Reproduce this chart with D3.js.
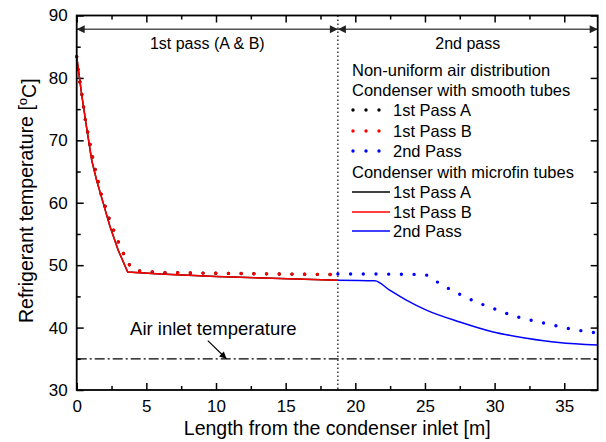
<!DOCTYPE html>
<html>
<head>
<meta charset="utf-8">
<script src="https://cdn.jsdelivr.net/npm/d3@7"></script>
<style>
  body { margin: 0; background: #fff; }
  text { font-family: "Liberation Sans", Arial, sans-serif; }
</style>
</head>
<body>
<div id="chart"></div>
<script>
// Data

const lenMicro1 = [0, 0.36, 0.72, 1.08, 1.43, 1.91, 2.39, 2.98, 3.66, 6, 10, 14, 18.75]
const tempMicro1 = [83.4, 77.3, 71.9, 66.8, 63.6, 59.9, 56.2, 52.4, 48.9, 48.6, 48.2, 47.9, 47.6]

const lenSmooth1 = [0, 0.11, 0.36, 0.62, 0.95, 1.31, 1.74, 2.32, 3.01, 3.41, 3.87, 4.3, 6.3, 10, 14, 18.75]
const tempSmooth1 = [83.4, 81.0, 77.5, 73.3, 69.4, 65.5, 61.5, 57.5, 53.6, 51.6, 49.7, 49.1, 48.8, 48.7, 48.6, 48.5]

const lenMicro2 = [18.75, 21.4, 22.46, 23.66, 25.1, 27.5, 29.9, 32.3, 34.6, 37.4]
const tempMicro2 = [47.6, 47.5, 46.0, 44.4, 42.8, 40.9, 39.3, 38.3, 37.6, 37.2]

const lenSmooth2 = [18.75, 24.9, 26.1, 27.0, 27.9, 28.8, 29.75, 31.5, 33.4, 35.2, 37.4]
const tempSmooth2 = [48.6, 48.5, 47.0, 45.9, 44.9, 44.0, 43.2, 41.8, 40.8, 39.9, 39.1]

const airTemp = 35
const passBoundary = 18.75
const xTicks = [0, 5, 10, 15, 20, 25, 30, 35]
const yTicks = [30, 40, 50, 60, 70, 80, 90]

const legendHeaders = ["Non-uniform air distribution", "Condenser with smooth tubes", "Condenser with microfin tubes"]
const legendSeries = ["1st Pass A", "1st Pass B", "2nd Pass"]
const seriesColors = ["#000000", "#ff0000", "#0000ff"]

// Layout

const W = 606, H = 442
const marginLeft = 76.7, marginRight = 8.3, marginTop = 15.5, marginBottom = 52
const width = W - marginLeft - marginRight
const height = H - marginTop - marginBottom

const svg = d3.select("#chart").append("svg")
  .attr("width", W).attr("height", H)

const defs = svg.append("defs")
defs.append("marker")
  .attr("id", "arr")
  .attr("viewBox", "0 0 10 10")
  .attr("refX", 10).attr("refY", 5)
  .attr("markerWidth", 10).attr("markerHeight", 8)
  .attr("markerUnits", "userSpaceOnUse")
  .attr("orient", "auto-start-reverse")
  .append("path")
  .attr("d", "M0,0 L10,5 L0,10 z")
  .attr("fill", "#222")
defs.append("marker")
  .attr("id", "arrSmall")
  .attr("viewBox", "0 0 10 10")
  .attr("refX", 10).attr("refY", 5)
  .attr("markerWidth", 8).attr("markerHeight", 7)
  .attr("markerUnits", "userSpaceOnUse")
  .attr("orient", "auto")
  .append("path")
  .attr("d", "M0,0 L10,5 L0,10 z")
  .attr("fill", "#000")

const g = svg.append("g").attr("transform", `translate(${marginLeft},${marginTop})`)

const x = d3.scaleLinear().domain([0, 37.4]).range([0, width])
const y = d3.scaleLinear().domain([30, 90]).range([height, 0])

const minorX = d3.range(2.5, 37.4, 5)
const minorY = d3.range(35, 90, 10)

// axes (ticks inward on all four sides)
function styleAxis(sel) {
  sel.select(".domain").remove()
  sel.selectAll(".tick line").attr("stroke", "#000").attr("stroke-width", 1.5)
  sel.selectAll(".tick text").style("font-size", "17px").attr("fill", "#000")
}

g.append("g").attr("transform", `translate(0,${height})`)
  .call(d3.axisBottom(x).tickValues(xTicks).tickSizeInner(-7).tickSizeOuter(0).tickPadding(10))
  .call(styleAxis)
g.append("g").attr("transform", `translate(0,${height})`)
  .call(d3.axisBottom(x).tickValues(minorX).tickSizeInner(-4).tickSizeOuter(0).tickFormat(""))
  .call(styleAxis)
g.append("g")
  .call(d3.axisTop(x).tickValues(xTicks).tickSizeInner(-7).tickSizeOuter(0).tickFormat(""))
  .call(styleAxis)
g.append("g")
  .call(d3.axisTop(x).tickValues(minorX).tickSizeInner(-4).tickSizeOuter(0).tickFormat(""))
  .call(styleAxis)

g.append("g")
  .call(d3.axisLeft(y).tickValues(yTicks).tickSizeInner(-7).tickSizeOuter(0).tickPadding(9))
  .call(styleAxis)
g.append("g")
  .call(d3.axisLeft(y).tickValues(minorY).tickSizeInner(-4).tickSizeOuter(0).tickFormat(""))
  .call(styleAxis)
g.append("g").attr("transform", `translate(${width},0)`)
  .call(d3.axisRight(y).tickValues(yTicks).tickSizeInner(-7).tickSizeOuter(0).tickFormat(""))
  .call(styleAxis)
g.append("g").attr("transform", `translate(${width},0)`)
  .call(d3.axisRight(y).tickValues(minorY).tickSizeInner(-4).tickSizeOuter(0).tickFormat(""))
  .call(styleAxis)

// air inlet temperature line
g.append("line")
  .attr("x1", x(0)).attr("x2", x(37.4))
  .attr("y1", y(airTemp)).attr("y2", y(airTemp))
  .attr("stroke", "#000").attr("stroke-width", 1.2)
  .attr("stroke-dasharray", "10,3,2,3")

// pass boundary
g.append("line")
  .attr("x1", x(passBoundary)).attr("x2", x(passBoundary))
  .attr("y1", 0).attr("y2", height)
  .attr("stroke", "#000").attr("stroke-width", 1.2)
  .attr("stroke-dasharray", "1.5,2.5")

// pass arrows
const arrowY = y(87.8)
g.append("line")
  .attr("x1", x(0)).attr("x2", x(passBoundary))
  .attr("y1", arrowY).attr("y2", arrowY)
  .attr("stroke", "#555").attr("stroke-width", 1.4)
  .attr("marker-start", "url(#arr)").attr("marker-end", "url(#arr)")
g.append("line")
  .attr("x1", x(passBoundary)).attr("x2", x(37.4))
  .attr("y1", arrowY).attr("y2", arrowY)
  .attr("stroke", "#555").attr("stroke-width", 1.4)
  .attr("marker-start", "url(#arr)").attr("marker-end", "url(#arr)")

g.append("text")
  .attr("x", x(passBoundary / 2)).attr("y", y(85.6)).attr("dy", "0.35em")
  .attr("text-anchor", "middle").style("font-size", "16px")
  .text("1st pass (A & B)")
g.append("text")
  .attr("x", x((passBoundary + 37.4) / 2)).attr("y", y(85.6)).attr("dy", "0.35em")
  .attr("text-anchor", "middle").style("font-size", "16px")
  .text("2nd pass")

// curves
const line = d3.line().x(d => x(d[0])).y(d => y(d[1]))
const smoothLine = d3.line().x(d => x(d[0])).y(d => y(d[1])).curve(d3.curveMonotoneX)
const pairs = (a, b) => a.map((v, i) => [v, b[i]])

function drawCurve(xs, ys, color, dotted, gen) {
  const p = g.append("path")
    .datum(pairs(xs, ys))
    .attr("fill", "none")
    .attr("stroke", color)
    .attr("d", gen)
  if (dotted) {
    p.attr("stroke-width", 3.4).attr("stroke-linecap", "round").attr("stroke-dasharray", "0,12.7")
  } else {
    p.attr("stroke-width", 1.5)
  }
}

drawCurve(lenSmooth1, tempSmooth1, seriesColors[0], true, line)
drawCurve(lenSmooth1, tempSmooth1, seriesColors[1], true, line)
drawCurve(lenSmooth2, tempSmooth2, seriesColors[2], true, smoothLine)
drawCurve(lenMicro1, tempMicro1, seriesColors[0], false, line)
drawCurve(lenMicro1, tempMicro1, seriesColors[1], false, line)
drawCurve(lenMicro2, tempMicro2, seriesColors[2], false, smoothLine)

// legend
const legX = 352 - marginLeft, legText = 393 - marginLeft
const rowY = [70, 90, 110, 131, 151, 172, 192, 212, 231].map(v => v - marginTop)
const fs = "16.5px"
g.append("text").attr("x", legX).attr("y", rowY[0]).attr("dy", "0.35em").style("font-size", fs).text(legendHeaders[0])
g.append("text").attr("x", legX).attr("y", rowY[1]).attr("dy", "0.35em").style("font-size", fs).text(legendHeaders[1])
g.append("text").attr("x", legX).attr("y", rowY[5]).attr("dy", "0.35em").style("font-size", fs).text(legendHeaders[2])

legendSeries.forEach((name, i) => {
  const yd = rowY[2 + i]
  g.append("line")
    .attr("x1", legX + 1).attr("x2", legX + 29).attr("y1", yd).attr("y2", yd)
    .attr("stroke", seriesColors[i]).attr("stroke-width", 3.4)
    .attr("stroke-linecap", "round").attr("stroke-dasharray", "0,13")
  g.append("text").attr("x", legText).attr("y", yd).attr("dy", "0.35em").style("font-size", fs).text(name)

  const yl = rowY[6 + i]
  g.append("line")
    .attr("x1", legX).attr("x2", legX + 38).attr("y1", yl).attr("y2", yl)
    .attr("stroke", seriesColors[i]).attr("stroke-width", 1.5)
  g.append("text").attr("x", legText).attr("y", yl).attr("dy", "0.35em").style("font-size", fs).text(name)
})

// air inlet annotation
g.append("text")
  .attr("x", x(3.83)).attr("y", 329 - marginTop).attr("dy", "0.35em")
  .style("font-size", "18.5px")
  .text("Air inlet temperature")
g.append("line")
  .attr("x1", x(9.41)).attr("y1", y(37.9))
  .attr("x2", x(10.75)).attr("y2", y(airTemp))
  .attr("stroke", "#000").attr("stroke-width", 1.2)
  .attr("marker-end", "url(#arrSmall)")

// frame
g.append("rect")
  .attr("width", width).attr("height", height)
  .attr("fill", "none").attr("stroke", "#000").attr("stroke-width", 1.8)

// axis titles
svg.append("text")
  .attr("x", marginLeft + width / 2).attr("y", 435)
  .attr("text-anchor", "middle").style("font-size", "19.5px")
  .text("Length from the condenser inlet [m]")

const yTitle = svg.append("text")
  .attr("transform", `translate(33,${marginTop + height / 2 - 2}) rotate(-90)`)
  .attr("text-anchor", "middle").style("font-size", "19.5px")
yTitle.append("tspan").text("Refrigerant temperature [")
yTitle.append("tspan").attr("dy", "-0.45em").style("font-size", "13px").text("o")
yTitle.append("tspan").attr("dy", "0.45em").text("C]")
</script>
</body>
</html>
